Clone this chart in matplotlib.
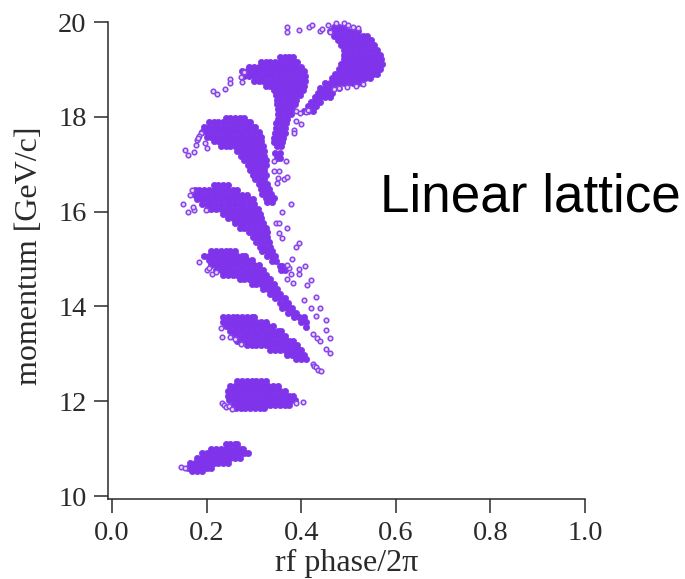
import matplotlib
matplotlib.use("Agg")
import matplotlib.pyplot as plt

# Each row: (momentum, [phases at that momentum])
bunch1 = [
 (11.1,[.24,.25,.26,.265]),
 (11.0,[.21,.22,.23,.24,.25,.26,.27,.278]),
 (10.9,[.19,.2,.21,.22,.23,.24,.25,.26,.27,.28,.288]),
 (10.8,[.18,.19,.2,.21,.22,.23,.24,.25,.26,.27]),
 (10.7,[.165,.175,.185,.195,.205,.215,.225,.235,.245]),
 (10.6,[.16,.17,.18,.19,.2,.21]),
 (10.53,[.17,.18,.19]),
]
bunch2 = [
 (12.42,[.265,.275,.285,.295,.305,.315,.325]),
 (12.32,[.25,.26,.27,.28,.29,.3,.31,.32,.33,.34,.35]),
 (12.22,[.245,.255,.265,.275,.285,.295,.305,.315,.325,.335,.345,.355,.365]),
 (12.12,[.245,.255,.265,.275,.285,.295,.305,.315,.325,.335,.345,.355,.365,.375,.383]),
 (12.02,[.248,.258,.268,.278,.288,.298,.308,.318,.328,.338,.348,.358,.368,.378,.386]),
 (11.92,[.255,.265,.275,.285,.295,.305,.315,.325,.335,.345,.355,.365,.375]),
 (11.86,[.262,.272,.282,.292,.302,.312,.322]),
]
bunch3 = [
 (13.78,[.235,.245,.255,.265,.275,.285,.295,.3]),
 (13.68,[.235,.245,.255,.265,.275,.285,.295,.305,.315,.325]),
 (13.58,[.24,.25,.26,.27,.28,.29,.3,.31,.32,.33,.34]),
 (13.48,[.25,.26,.27,.28,.29,.3,.31,.32,.33,.34,.35,.358]),
 (13.38,[.255,.265,.275,.285,.295,.305,.315,.325,.335,.345,.355,.365]),
 (13.28,[.265,.275,.285,.295,.305,.315,.325,.335,.345,.355,.365,.375,.382]),
 (13.18,[.285,.295,.305,.315,.325,.335,.345,.355,.365,.375,.385,.392]),
 (13.08,[.335,.345,.355,.365,.375,.385,.395,.4]),
 (12.98,[.37,.38,.39,.4,.405]),
 (12.88,[.39,.4,.41]),
]
bunch4 = [
 (15.17,[.21,.22,.23,.24,.25,.26]),
 (15.07,[.195,.205,.215,.225,.235,.245,.255,.265,.275,.282]),
 (14.97,[.205,.215,.225,.235,.245,.255,.265,.275,.285,.295]),
 (14.87,[.21,.22,.23,.24,.25,.26,.27,.28,.29,.3,.31]),
 (14.77,[.22,.23,.24,.25,.26,.27,.28,.29,.3,.31,.32]),
 (14.67,[.235,.245,.255,.265,.275,.285,.295,.305,.315,.325]),
 (14.57,[.27,.28,.29,.3,.31,.32,.33,.335]),
 (14.47,[.295,.305,.315,.325,.335,.342]),
 (14.37,[.32,.33,.34,.348]),
 (14.27,[.335,.345,.355]),
 (14.17,[.345,.355,.365]),
 (14.07,[.355,.365,.372]),
 (13.97,[.36,.37,.38]),
 (13.87,[.372,.382,.39]),
 (13.77,[.385,.395,.405]),
 (13.67,[.4,.41]),
 (13.57,[.41]),
]
bunch5 = [
 (16.56,[.215,.225,.235,.245]),
 (16.46,[.175,.185,.195,.205,.215,.225,.235,.245,.255,.265]),
 (16.36,[.175,.185,.195,.205,.215,.225,.235,.245,.255,.265,.275,.285]),
 (16.26,[.18,.19,.2,.21,.22,.23,.24,.25,.26,.27,.28,.29,.298]),
 (16.16,[.19,.2,.21,.22,.23,.24,.25,.26,.27,.28,.29,.3]),
 (16.06,[.2,.21,.22,.23,.24,.25,.26,.27,.28,.29,.3,.308]),
 (15.96,[.235,.245,.255,.265,.275,.285,.295,.305,.313]),
 (15.86,[.245,.255,.265,.275,.285,.295,.305,.315]),
 (15.76,[.26,.27,.28,.29,.3,.31,.32]),
 (15.66,[.27,.28,.29,.3,.31,.32,.325]),
 (15.56,[.29,.3,.31,.32,.328]),
 (15.46,[.298,.308,.318,.328]),
 (15.36,[.305,.315,.325,.332]),
 (15.26,[.312,.322,.335]),
 (15.16,[.318,.328,.338]),
 (15.06,[.328,.338,.345]),
 (14.96,[.338,.347]),
 (14.86,[.356,.36]),
 (14.76,[.358,.365]),
]
bunch6 = [
 (17.98,[.24,.25,.26,.27,.28]),
 (17.88,[.205,.215,.225,.235,.245,.255,.265,.275,.285,.292]),
 (17.78,[.195,.205,.215,.225,.235,.245,.255,.265,.275,.285,.295,.303]),
 (17.68,[.19,.2,.21,.22,.23,.24,.25,.26,.27,.28,.29,.3,.31]),
 (17.58,[.2,.21,.22,.23,.24,.25,.26,.27,.28,.29,.3,.31,.315]),
 (17.48,[.215,.225,.235,.245,.255,.265,.275,.285,.295,.305,.315]),
 (17.38,[.23,.24,.25,.26,.27,.28,.29,.3,.31,.32]),
 (17.28,[.265,.275,.285,.295,.305,.315,.322]),
 (17.18,[.272,.282,.292,.302,.312,.322]),
 (17.08,[.28,.29,.3,.31,.32,.325]),
 (16.98,[.288,.298,.308,.318,.325]),
 (16.88,[.292,.302,.312,.322]),
 (16.78,[.298,.308,.318,.325]),
 (16.68,[.303,.313,.322]),
 (16.58,[.31,.32,.328]),
 (16.48,[.315,.325,.332]),
 (16.38,[.318,.328,.336]),
 (16.28,[.325,.335,.342]),
 (16.2,[.328,.338]),
]
bunch7 = [
 (19.26,[.355,.365,.375,.382]),
 (19.16,[.315,.325,.335,.345,.355,.365,.375,.385,.392]),
 (19.06,[.29,.3,.31,.32,.33,.34,.35,.36,.37,.38,.39,.4]),
 (18.96,[.275,.285,.295,.305,.315,.325,.335,.345,.355,.365,.375,.385,.395,.405]),
 (18.86,[.28,.29,.3,.31,.32,.33,.34,.35,.36,.37,.38,.39,.4,.408]),
 (18.76,[.3,.31,.32,.33,.34,.35,.36,.37,.38,.39,.4,.408]),
 (18.66,[.325,.335,.345,.355,.365,.375,.385,.395,.405]),
 (18.56,[.343,.353,.363,.373,.383,.393,.403]),
 (18.46,[.347,.357,.367,.377,.387,.397]),
 (18.36,[.348,.358,.368,.378,.39]),
 (18.26,[.348,.358,.368,.378,.387]),
 (18.16,[.35,.36,.37,.38]),
 (18.06,[.35,.36,.37,.378]),
 (17.96,[.35,.36,.37]),
 (17.86,[.347,.357,.367]),
 (17.76,[.347,.357,.365]),
 (17.66,[.345,.355,.365]),
 (17.56,[.342,.352,.362]),
 (17.46,[.342,.352,.36]),
 (17.38,[.348,.357]),
 (17.24,[.345,.355]),
 (17.14,[.348,.355]),
]
bunch8 = [
 (19.9,[.47,.48,.49]),
 (19.81,[.46,.47,.48,.49,.5,.51,.52]),
 (19.71,[.47,.48,.49,.5,.51,.52,.53,.54]),
 (19.61,[.478,.488,.498,.508,.518,.528,.538,.548]),
 (19.51,[.485,.495,.505,.515,.525,.535,.545,.553]),
 (19.41,[.49,.5,.51,.52,.53,.54,.55,.56]),
 (19.31,[.49,.5,.51,.52,.53,.54,.55,.56,.567]),
 (19.21,[.49,.5,.51,.52,.53,.54,.55,.56,.568]),
 (19.11,[.485,.495,.505,.515,.525,.535,.545,.555,.565,.57]),
 (19.01,[.48,.49,.5,.51,.52,.53,.54,.55,.56,.567]),
 (18.91,[.472,.482,.492,.502,.512,.522,.532,.542,.552,.56]),
 (18.81,[.465,.475,.485,.495,.505,.515,.525,.535,.545]),
 (18.71,[.45,.46,.47,.48,.49,.5,.51,.52,.528]),
 (18.61,[.44,.45,.46,.47,.48]),
 (18.51,[.435,.445,.455,.465]),
 (18.41,[.43,.44,.45,.46]),
 (18.31,[.42,.43,.44]),
 (18.23,[.415,.425,.432]),
 (18.13,[.405,.415,.425]),
]
# isolated open circles
open_phase = [
 .146,.154,.232,.236,.24,.247,.254,.403,.39,
 .23,.232,.25,.26,.273,.424,.428,.431,.436,.441,
 .426,.433,.44,.46,.452,.452,.452,.46,.432,.439,.432,.42,.405,
 .42,.413,.409,.395,.395,.379,.371,.383,.381,.375,.37,
 .184,.2,.212,.205,.219,
 .15,.161,.174,.199,.165,.17,.172,
 .379,.36,.347,.354,.371,.354,.36,.388,.395,
 .155,.161,.174,.178,.18,.201,.188,.183,.182,.196,
 .368,.343,.343,.354,.35,.349,.364,.371,
 .214,.222,.239,.25,.249,.275,.272,.28,
 .371,.371,.395,.417,.422,.44,.444,.456,.46,.474,.49,.5,.51,.52,
 .388,.385,.385,.4,.388,.398,.41,.415,.53,.515,.497,.48,.47,
]
open_momentum = [
 10.61,10.6,11.97,11.93,11.88,11.9,11.84,11.99,11.96,
 13.55,13.36,13.35,13.32,13.2,12.79,12.75,12.72,12.66,12.63,
 13.42,13.34,13.26,13.34,13.5,13.72,13.1,13.02,14.2,13.97,13.8,13.97,14.14,
 14.55,14.46,14.86,14.69,14.78,14.69,14.58,14.5,15.0,14.8,14.88,
 14.93,14.76,14.69,14.8,14.72,
 16.15,16.0,16.03,16.03,16.35,16.45,16.1,
 16.17,16.0,15.75,15.75,15.65,15.54,15.45,15.26,15.33,
 17.3,17.19,17.25,17.4,17.52,17.34,17.65,17.6,17.55,17.45,
 17.06,17.06,16.85,16.85,16.7,16.6,16.68,16.72,
 18.54,18.48,18.58,18.8,18.72,18.73,18.85,18.95,
 19.9,19.79,19.83,19.9,19.94,19.81,19.85,19.94,19.79,19.98,19.97,19.93,19.9,19.88,
 18.12,17.72,17.65,17.85,17.91,18.07,18.1,18.15,18.7,18.66,18.62,18.6,18.58,
]
x_ticks = [0.0, 0.2, 0.4, 0.6, 0.8, 1.0]
x_tick_labels = ["0.0", "0.2", "0.4", "0.6", "0.8", "1.0"]
y_ticks = [10, 12, 14, 16, 18, 20]

PURPLE = "#7f33ea"
INK = "#2a2a2a"
serif = ["Liberation Serif", "DejaVu Serif"]

fig = plt.figure(figsize=(6.85, 5.79), dpi=100)
ax = fig.add_axes([107.5/685, (579-499)/579, (585-107.5)/685, (499-22)/579])

for bunch in (bunch1, bunch2, bunch3, bunch4, bunch5, bunch6, bunch7, bunch8):
    xs = [p for m, row in bunch for p in row]
    ys = [m for m, row in bunch for p in row]
    ax.plot(xs, ys, ls="none", marker="o", ms=4.5, mew=0.5, mfc=PURPLE, mec=PURPLE, clip_on=False)
ax.plot(open_phase, open_momentum, ls="none", marker="o", ms=3.3, mew=1.1,
        mfc="#e4d4fb", mec="#8a45ea", clip_on=False)

ax.set_xlim(-0.0095, 1.0)
ax.set_ylim(9.937, 20.0)
ax.set_xticks(x_ticks)
ax.set_xticklabels(x_tick_labels)
ax.set_yticks(y_ticks)
ax.spines["top"].set_visible(False)
ax.spines["right"].set_visible(False)
for s in ("left", "bottom"):
    ax.spines[s].set_linewidth(1.1)
    ax.spines[s].set_color(INK)
ax.tick_params(axis="both", length=10, width=1.1, color=INK, labelsize=20.5, labelcolor=INK)
ax.tick_params(axis="x", pad=6)
ax.tick_params(axis="y", pad=5)
for lab in ax.get_xticklabels() + ax.get_yticklabels():
    lab.set_family(serif)
ax.set_xlabel("rf phase/2π", family=serif, fontsize=23, color=INK, labelpad=2)
ax.set_ylabel("momentum [GeV/c]", family=serif, fontsize=23, color=INK, labelpad=10, y=0.51)

fig.text(380/685, (579-211)/579, "Linear lattice", family=["Liberation Sans", "DejaVu Sans"],
         fontsize=38.2, color="black", ha="left", va="baseline")
fig.savefig("out.png", dpi=100)
